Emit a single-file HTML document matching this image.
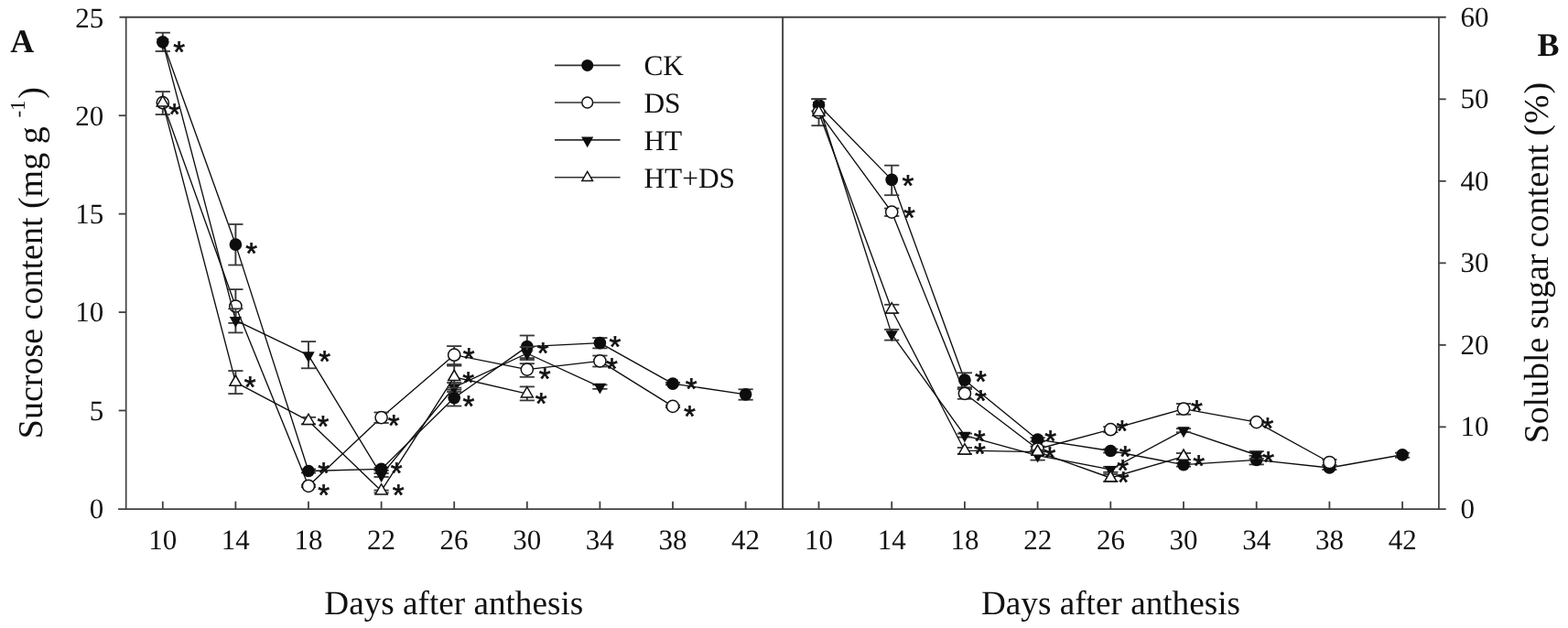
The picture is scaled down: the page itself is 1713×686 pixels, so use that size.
<!DOCTYPE html>
<html lang="en">
<head>
<meta charset="utf-8">
<title>Sucrose and soluble sugar content</title>
<style>
html,body{margin:0;padding:0;background:#fff;}
body{width:1713px;height:686px;overflow:hidden;}
svg{display:block;filter:blur(0.45px);}
svg text{text-rendering:geometricPrecision;}
</style>
</head>
<body>
<svg width="1713" height="686" viewBox="0 0 1713 686" role="img" aria-label="Sucrose content and soluble sugar content versus days after anthesis">
<rect width="1713" height="686" fill="#fff"/>
<g id="panelA">
<polyline points="177.80,45.80 257.40,267.10 337.00,514.50 416.60,512.40 496.20,434.60 575.80,378.60 655.40,374.60 735.00,419.10 814.60,430.80" fill="none" stroke="#0d0d0d" stroke-width="1.35" stroke-linejoin="round"/>
<line x1="177.80" y1="35.70" x2="177.80" y2="56.00" stroke="#383838" stroke-width="1.9" />
<line x1="169.70" y1="35.70" x2="185.90" y2="35.70" stroke="#383838" stroke-width="1.8" />
<line x1="169.70" y1="56.00" x2="185.90" y2="56.00" stroke="#383838" stroke-width="1.8" />
<line x1="257.40" y1="245.00" x2="257.40" y2="289.50" stroke="#383838" stroke-width="1.9" />
<line x1="249.30" y1="245.00" x2="265.50" y2="245.00" stroke="#383838" stroke-width="1.8" />
<line x1="249.30" y1="289.50" x2="265.50" y2="289.50" stroke="#383838" stroke-width="1.8" />
<line x1="337.00" y1="512.50" x2="337.00" y2="516.50" stroke="#383838" stroke-width="1.9" />
<line x1="328.90" y1="512.50" x2="345.10" y2="512.50" stroke="#383838" stroke-width="1.8" />
<line x1="328.90" y1="516.50" x2="345.10" y2="516.50" stroke="#383838" stroke-width="1.8" />
<line x1="416.60" y1="510.90" x2="416.60" y2="513.90" stroke="#383838" stroke-width="1.9" />
<line x1="408.50" y1="510.90" x2="424.70" y2="510.90" stroke="#383838" stroke-width="1.8" />
<line x1="408.50" y1="513.90" x2="424.70" y2="513.90" stroke="#383838" stroke-width="1.8" />
<line x1="496.20" y1="425.70" x2="496.20" y2="443.50" stroke="#383838" stroke-width="1.9" />
<line x1="488.10" y1="425.70" x2="504.30" y2="425.70" stroke="#383838" stroke-width="1.8" />
<line x1="488.10" y1="443.50" x2="504.30" y2="443.50" stroke="#383838" stroke-width="1.8" />
<line x1="575.80" y1="366.50" x2="575.80" y2="391.10" stroke="#383838" stroke-width="1.9" />
<line x1="567.70" y1="366.50" x2="583.90" y2="366.50" stroke="#383838" stroke-width="1.8" />
<line x1="567.70" y1="391.10" x2="583.90" y2="391.10" stroke="#383838" stroke-width="1.8" />
<line x1="655.40" y1="369.10" x2="655.40" y2="380.40" stroke="#383838" stroke-width="1.9" />
<line x1="647.30" y1="369.10" x2="663.50" y2="369.10" stroke="#383838" stroke-width="1.8" />
<line x1="647.30" y1="380.40" x2="663.50" y2="380.40" stroke="#383838" stroke-width="1.8" />
<line x1="735.00" y1="417.90" x2="735.00" y2="420.30" stroke="#383838" stroke-width="1.9" />
<line x1="726.90" y1="417.90" x2="743.10" y2="417.90" stroke="#383838" stroke-width="1.8" />
<line x1="726.90" y1="420.30" x2="743.10" y2="420.30" stroke="#383838" stroke-width="1.8" />
<line x1="814.60" y1="425.30" x2="814.60" y2="436.70" stroke="#383838" stroke-width="1.9" />
<line x1="806.50" y1="425.30" x2="822.70" y2="425.30" stroke="#383838" stroke-width="1.8" />
<line x1="806.50" y1="436.70" x2="822.70" y2="436.70" stroke="#383838" stroke-width="1.8" />
<circle cx="177.80" cy="45.80" r="6.85" fill="#0d0d0d"/>
<circle cx="257.40" cy="267.10" r="6.85" fill="#0d0d0d"/>
<circle cx="337.00" cy="514.50" r="6.85" fill="#0d0d0d"/>
<circle cx="416.60" cy="512.40" r="6.85" fill="#0d0d0d"/>
<circle cx="496.20" cy="434.60" r="6.85" fill="#0d0d0d"/>
<circle cx="575.80" cy="378.60" r="6.85" fill="#0d0d0d"/>
<circle cx="655.40" cy="374.60" r="6.85" fill="#0d0d0d"/>
<circle cx="735.00" cy="419.10" r="6.85" fill="#0d0d0d"/>
<circle cx="814.60" cy="430.80" r="6.85" fill="#0d0d0d"/>
<polyline points="177.80,112.20 257.40,334.50 337.00,530.80 416.60,456.10 496.20,387.70 575.80,403.60 655.40,394.40 735.00,443.90" fill="none" stroke="#0d0d0d" stroke-width="1.35" stroke-linejoin="round"/>
<line x1="177.80" y1="100.10" x2="177.80" y2="125.10" stroke="#383838" stroke-width="1.9" />
<line x1="169.70" y1="100.10" x2="185.90" y2="100.10" stroke="#383838" stroke-width="1.8" />
<line x1="169.70" y1="125.10" x2="185.90" y2="125.10" stroke="#383838" stroke-width="1.8" />
<line x1="257.40" y1="316.10" x2="257.40" y2="352.90" stroke="#383838" stroke-width="1.9" />
<line x1="249.30" y1="316.10" x2="265.50" y2="316.10" stroke="#383838" stroke-width="1.8" />
<line x1="249.30" y1="352.90" x2="265.50" y2="352.90" stroke="#383838" stroke-width="1.8" />
<line x1="337.00" y1="529.60" x2="337.00" y2="532.00" stroke="#383838" stroke-width="1.9" />
<line x1="328.90" y1="529.60" x2="345.10" y2="529.60" stroke="#383838" stroke-width="1.8" />
<line x1="328.90" y1="532.00" x2="345.10" y2="532.00" stroke="#383838" stroke-width="1.8" />
<line x1="416.60" y1="450.50" x2="416.60" y2="462.00" stroke="#383838" stroke-width="1.9" />
<line x1="408.50" y1="450.50" x2="424.70" y2="450.50" stroke="#383838" stroke-width="1.8" />
<line x1="408.50" y1="462.00" x2="424.70" y2="462.00" stroke="#383838" stroke-width="1.8" />
<line x1="496.20" y1="378.10" x2="496.20" y2="398.10" stroke="#383838" stroke-width="1.9" />
<line x1="488.10" y1="378.10" x2="504.30" y2="378.10" stroke="#383838" stroke-width="1.8" />
<line x1="488.10" y1="398.10" x2="504.30" y2="398.10" stroke="#383838" stroke-width="1.8" />
<line x1="575.80" y1="397.20" x2="575.80" y2="411.80" stroke="#383838" stroke-width="1.9" />
<line x1="567.70" y1="397.20" x2="583.90" y2="397.20" stroke="#383838" stroke-width="1.8" />
<line x1="567.70" y1="411.80" x2="583.90" y2="411.80" stroke="#383838" stroke-width="1.8" />
<line x1="655.40" y1="388.50" x2="655.40" y2="400.50" stroke="#383838" stroke-width="1.9" />
<line x1="647.30" y1="388.50" x2="663.50" y2="388.50" stroke="#383838" stroke-width="1.8" />
<line x1="647.30" y1="400.50" x2="663.50" y2="400.50" stroke="#383838" stroke-width="1.8" />
<line x1="735.00" y1="442.70" x2="735.00" y2="445.10" stroke="#383838" stroke-width="1.9" />
<line x1="726.90" y1="442.70" x2="743.10" y2="442.70" stroke="#383838" stroke-width="1.8" />
<line x1="726.90" y1="445.10" x2="743.10" y2="445.10" stroke="#383838" stroke-width="1.8" />
<circle cx="177.80" cy="112.20" r="6.6" fill="#fff" stroke="#111" stroke-width="1.5"/>
<circle cx="257.40" cy="334.50" r="6.6" fill="#fff" stroke="#111" stroke-width="1.5"/>
<circle cx="337.00" cy="530.80" r="6.6" fill="#fff" stroke="#111" stroke-width="1.5"/>
<circle cx="416.60" cy="456.10" r="6.6" fill="#fff" stroke="#111" stroke-width="1.5"/>
<circle cx="496.20" cy="387.70" r="6.6" fill="#fff" stroke="#111" stroke-width="1.5"/>
<circle cx="575.80" cy="403.60" r="6.6" fill="#fff" stroke="#111" stroke-width="1.5"/>
<circle cx="655.40" cy="394.40" r="6.6" fill="#fff" stroke="#111" stroke-width="1.5"/>
<circle cx="735.00" cy="443.90" r="6.6" fill="#fff" stroke="#111" stroke-width="1.5"/>
<polyline points="177.80,45.80 257.40,349.90 337.00,388.20 416.60,519.00 496.20,423.00 575.80,386.00 655.40,422.60" fill="none" stroke="#0d0d0d" stroke-width="1.35" stroke-linejoin="round"/>
<line x1="257.40" y1="337.30" x2="257.40" y2="363.40" stroke="#383838" stroke-width="1.9" />
<line x1="249.30" y1="337.30" x2="265.50" y2="337.30" stroke="#383838" stroke-width="1.8" />
<line x1="249.30" y1="363.40" x2="265.50" y2="363.40" stroke="#383838" stroke-width="1.8" />
<line x1="337.00" y1="373.10" x2="337.00" y2="402.30" stroke="#383838" stroke-width="1.9" />
<line x1="328.90" y1="373.10" x2="345.10" y2="373.10" stroke="#383838" stroke-width="1.8" />
<line x1="328.90" y1="402.30" x2="345.10" y2="402.30" stroke="#383838" stroke-width="1.8" />
<line x1="416.60" y1="517.00" x2="416.60" y2="521.00" stroke="#383838" stroke-width="1.9" />
<line x1="408.50" y1="517.00" x2="424.70" y2="517.00" stroke="#383838" stroke-width="1.8" />
<line x1="408.50" y1="521.00" x2="424.70" y2="521.00" stroke="#383838" stroke-width="1.8" />
<line x1="496.20" y1="418.00" x2="496.20" y2="428.00" stroke="#383838" stroke-width="1.9" />
<line x1="488.10" y1="418.00" x2="504.30" y2="418.00" stroke="#383838" stroke-width="1.8" />
<line x1="488.10" y1="428.00" x2="504.30" y2="428.00" stroke="#383838" stroke-width="1.8" />
<line x1="575.80" y1="379.00" x2="575.80" y2="393.00" stroke="#383838" stroke-width="1.9" />
<line x1="567.70" y1="379.00" x2="583.90" y2="379.00" stroke="#383838" stroke-width="1.8" />
<line x1="567.70" y1="393.00" x2="583.90" y2="393.00" stroke="#383838" stroke-width="1.8" />
<line x1="655.40" y1="420.40" x2="655.40" y2="424.80" stroke="#383838" stroke-width="1.9" />
<line x1="647.30" y1="420.40" x2="663.50" y2="420.40" stroke="#383838" stroke-width="1.8" />
<line x1="647.30" y1="424.80" x2="663.50" y2="424.80" stroke="#383838" stroke-width="1.8" />
<polygon points="171.10,41.93 184.50,41.93 177.80,53.73" fill="#0d0d0d"/>
<polygon points="250.70,346.03 264.10,346.03 257.40,357.83" fill="#0d0d0d"/>
<polygon points="330.30,384.33 343.70,384.33 337.00,396.13" fill="#0d0d0d"/>
<polygon points="409.90,515.13 423.30,515.13 416.60,526.93" fill="#0d0d0d"/>
<polygon points="489.50,419.13 502.90,419.13 496.20,430.93" fill="#0d0d0d"/>
<polygon points="569.10,382.13 582.50,382.13 575.80,393.93" fill="#0d0d0d"/>
<polygon points="648.70,418.73 662.10,418.73 655.40,430.53" fill="#0d0d0d"/>
<polyline points="177.80,112.20 257.40,417.60 337.00,459.70 416.60,536.20 496.20,411.80 575.80,430.20" fill="none" stroke="#0d0d0d" stroke-width="1.35" stroke-linejoin="round"/>
<line x1="257.40" y1="405.10" x2="257.40" y2="430.10" stroke="#383838" stroke-width="1.9" />
<line x1="249.30" y1="405.10" x2="265.50" y2="405.10" stroke="#383838" stroke-width="1.8" />
<line x1="249.30" y1="430.10" x2="265.50" y2="430.10" stroke="#383838" stroke-width="1.8" />
<line x1="337.00" y1="455.80" x2="337.00" y2="463.30" stroke="#383838" stroke-width="1.9" />
<line x1="328.90" y1="455.80" x2="345.10" y2="455.80" stroke="#383838" stroke-width="1.8" />
<line x1="328.90" y1="463.30" x2="345.10" y2="463.30" stroke="#383838" stroke-width="1.8" />
<line x1="416.60" y1="535.60" x2="416.60" y2="538.40" stroke="#383838" stroke-width="1.9" />
<line x1="408.50" y1="535.60" x2="424.70" y2="535.60" stroke="#383838" stroke-width="1.8" />
<line x1="408.50" y1="538.40" x2="424.70" y2="538.40" stroke="#383838" stroke-width="1.8" />
<line x1="496.20" y1="399.60" x2="496.20" y2="423.60" stroke="#383838" stroke-width="1.9" />
<line x1="488.10" y1="399.60" x2="504.30" y2="399.60" stroke="#383838" stroke-width="1.8" />
<line x1="488.10" y1="423.60" x2="504.30" y2="423.60" stroke="#383838" stroke-width="1.8" />
<line x1="575.80" y1="422.40" x2="575.80" y2="437.40" stroke="#383838" stroke-width="1.9" />
<line x1="567.70" y1="422.40" x2="583.90" y2="422.40" stroke="#383838" stroke-width="1.8" />
<line x1="567.70" y1="437.40" x2="583.90" y2="437.40" stroke="#383838" stroke-width="1.8" />
<polygon points="171.30,115.97 184.30,115.97 177.80,104.67" fill="#fff" stroke="#111" stroke-width="1.5" stroke-linejoin="miter"/>
<polygon points="250.90,421.37 263.90,421.37 257.40,410.07" fill="#fff" stroke="#111" stroke-width="1.5" stroke-linejoin="miter"/>
<polygon points="330.50,463.47 343.50,463.47 337.00,452.17" fill="#fff" stroke="#111" stroke-width="1.5" stroke-linejoin="miter"/>
<polygon points="410.10,539.97 423.10,539.97 416.60,528.67" fill="#fff" stroke="#111" stroke-width="1.5" stroke-linejoin="miter"/>
<polygon points="489.70,415.57 502.70,415.57 496.20,404.27" fill="#fff" stroke="#111" stroke-width="1.5" stroke-linejoin="miter"/>
<polygon points="569.30,433.97 582.30,433.97 575.80,422.67" fill="#fff" stroke="#111" stroke-width="1.5" stroke-linejoin="miter"/>
<text x="189.33" y="67.96" font-family='"Liberation Sans", Arial, sans-serif' font-size="33" font-weight="normal" text-anchor="start" fill="#111" stroke="#111" stroke-width="0.6">*</text>
<text x="184.23" y="135.76" font-family='"Liberation Sans", Arial, sans-serif' font-size="33" font-weight="normal" text-anchor="start" fill="#111" stroke="#111" stroke-width="0.6">*</text>
<text x="268.23" y="288.06" font-family='"Liberation Sans", Arial, sans-serif' font-size="33" font-weight="normal" text-anchor="start" fill="#111" stroke="#111" stroke-width="0.6">*</text>
<text x="266.63" y="434.16" font-family='"Liberation Sans", Arial, sans-serif' font-size="33" font-weight="normal" text-anchor="start" fill="#111" stroke="#111" stroke-width="0.6">*</text>
<text x="348.23" y="405.66" font-family='"Liberation Sans", Arial, sans-serif' font-size="33" font-weight="normal" text-anchor="start" fill="#111" stroke="#111" stroke-width="0.6">*</text>
<text x="346.53" y="476.66" font-family='"Liberation Sans", Arial, sans-serif' font-size="33" font-weight="normal" text-anchor="start" fill="#111" stroke="#111" stroke-width="0.6">*</text>
<text x="347.23" y="527.66" font-family='"Liberation Sans", Arial, sans-serif' font-size="33" font-weight="normal" text-anchor="start" fill="#111" stroke="#111" stroke-width="0.6">*</text>
<text x="347.23" y="552.46" font-family='"Liberation Sans", Arial, sans-serif' font-size="33" font-weight="normal" text-anchor="start" fill="#111" stroke="#111" stroke-width="0.6">*</text>
<text x="426.73" y="528.36" font-family='"Liberation Sans", Arial, sans-serif' font-size="33" font-weight="normal" text-anchor="start" fill="#111" stroke="#111" stroke-width="0.6">*</text>
<text x="428.63" y="551.56" font-family='"Liberation Sans", Arial, sans-serif' font-size="33" font-weight="normal" text-anchor="start" fill="#111" stroke="#111" stroke-width="0.6">*</text>
<text x="423.73" y="475.66" font-family='"Liberation Sans", Arial, sans-serif' font-size="33" font-weight="normal" text-anchor="start" fill="#111" stroke="#111" stroke-width="0.6">*</text>
<text x="505.73" y="403.16" font-family='"Liberation Sans", Arial, sans-serif' font-size="33" font-weight="normal" text-anchor="start" fill="#111" stroke="#111" stroke-width="0.6">*</text>
<text x="505.23" y="429.46" font-family='"Liberation Sans", Arial, sans-serif' font-size="33" font-weight="normal" text-anchor="start" fill="#111" stroke="#111" stroke-width="0.6">*</text>
<text x="505.43" y="454.76" font-family='"Liberation Sans", Arial, sans-serif' font-size="33" font-weight="normal" text-anchor="start" fill="#111" stroke="#111" stroke-width="0.6">*</text>
<text x="586.73" y="397.16" font-family='"Liberation Sans", Arial, sans-serif' font-size="33" font-weight="normal" text-anchor="start" fill="#111" stroke="#111" stroke-width="0.6">*</text>
<text x="588.73" y="424.56" font-family='"Liberation Sans", Arial, sans-serif' font-size="33" font-weight="normal" text-anchor="start" fill="#111" stroke="#111" stroke-width="0.6">*</text>
<text x="584.73" y="451.96" font-family='"Liberation Sans", Arial, sans-serif' font-size="33" font-weight="normal" text-anchor="start" fill="#111" stroke="#111" stroke-width="0.6">*</text>
<text x="665.43" y="389.86" font-family='"Liberation Sans", Arial, sans-serif' font-size="33" font-weight="normal" text-anchor="start" fill="#111" stroke="#111" stroke-width="0.6">*</text>
<text x="661.93" y="414.16" font-family='"Liberation Sans", Arial, sans-serif' font-size="33" font-weight="normal" text-anchor="start" fill="#111" stroke="#111" stroke-width="0.6">*</text>
<text x="748.73" y="436.46" font-family='"Liberation Sans", Arial, sans-serif' font-size="33" font-weight="normal" text-anchor="start" fill="#111" stroke="#111" stroke-width="0.6">*</text>
<text x="747.03" y="465.96" font-family='"Liberation Sans", Arial, sans-serif' font-size="33" font-weight="normal" text-anchor="start" fill="#111" stroke="#111" stroke-width="0.6">*</text>
</g>
<g id="panelB">
<polyline points="894.50,114.80 974.20,196.40 1053.90,415.20 1133.60,480.20 1213.30,492.50 1293.00,507.60 1372.70,502.40 1452.40,511.00 1532.10,496.80" fill="none" stroke="#0d0d0d" stroke-width="1.35" stroke-linejoin="round"/>
<line x1="894.50" y1="108.20" x2="894.50" y2="121.40" stroke="#383838" stroke-width="1.9" />
<line x1="886.40" y1="108.20" x2="902.60" y2="108.20" stroke="#383838" stroke-width="1.8" />
<line x1="886.40" y1="121.40" x2="902.60" y2="121.40" stroke="#383838" stroke-width="1.8" />
<line x1="974.20" y1="180.70" x2="974.20" y2="213.20" stroke="#383838" stroke-width="1.9" />
<line x1="966.10" y1="180.70" x2="982.30" y2="180.70" stroke="#383838" stroke-width="1.8" />
<line x1="966.10" y1="213.20" x2="982.30" y2="213.20" stroke="#383838" stroke-width="1.8" />
<line x1="1053.90" y1="407.30" x2="1053.90" y2="423.20" stroke="#383838" stroke-width="1.9" />
<line x1="1045.80" y1="407.30" x2="1062.00" y2="407.30" stroke="#383838" stroke-width="1.8" />
<line x1="1045.80" y1="423.20" x2="1062.00" y2="423.20" stroke="#383838" stroke-width="1.8" />
<line x1="1133.60" y1="478.20" x2="1133.60" y2="482.20" stroke="#383838" stroke-width="1.9" />
<line x1="1125.50" y1="478.20" x2="1141.70" y2="478.20" stroke="#383838" stroke-width="1.8" />
<line x1="1125.50" y1="482.20" x2="1141.70" y2="482.20" stroke="#383838" stroke-width="1.8" />
<line x1="1213.30" y1="490.50" x2="1213.30" y2="494.50" stroke="#383838" stroke-width="1.9" />
<line x1="1205.20" y1="490.50" x2="1221.40" y2="490.50" stroke="#383838" stroke-width="1.8" />
<line x1="1205.20" y1="494.50" x2="1221.40" y2="494.50" stroke="#383838" stroke-width="1.8" />
<line x1="1293.00" y1="505.60" x2="1293.00" y2="509.60" stroke="#383838" stroke-width="1.9" />
<line x1="1284.90" y1="505.60" x2="1301.10" y2="505.60" stroke="#383838" stroke-width="1.8" />
<line x1="1284.90" y1="509.60" x2="1301.10" y2="509.60" stroke="#383838" stroke-width="1.8" />
<line x1="1372.70" y1="497.80" x2="1372.70" y2="507.40" stroke="#383838" stroke-width="1.9" />
<line x1="1364.60" y1="497.80" x2="1380.80" y2="497.80" stroke="#383838" stroke-width="1.8" />
<line x1="1364.60" y1="507.40" x2="1380.80" y2="507.40" stroke="#383838" stroke-width="1.8" />
<line x1="1452.40" y1="509.00" x2="1452.40" y2="513.00" stroke="#383838" stroke-width="1.9" />
<line x1="1444.30" y1="509.00" x2="1460.50" y2="509.00" stroke="#383838" stroke-width="1.8" />
<line x1="1444.30" y1="513.00" x2="1460.50" y2="513.00" stroke="#383838" stroke-width="1.8" />
<line x1="1532.10" y1="494.60" x2="1532.10" y2="499.80" stroke="#383838" stroke-width="1.9" />
<line x1="1524.00" y1="494.60" x2="1540.20" y2="494.60" stroke="#383838" stroke-width="1.8" />
<line x1="1524.00" y1="499.80" x2="1540.20" y2="499.80" stroke="#383838" stroke-width="1.8" />
<circle cx="894.50" cy="114.80" r="6.85" fill="#0d0d0d"/>
<circle cx="974.20" cy="196.40" r="6.85" fill="#0d0d0d"/>
<circle cx="1053.90" cy="415.20" r="6.85" fill="#0d0d0d"/>
<circle cx="1133.60" cy="480.20" r="6.85" fill="#0d0d0d"/>
<circle cx="1213.30" cy="492.50" r="6.85" fill="#0d0d0d"/>
<circle cx="1293.00" cy="507.60" r="6.85" fill="#0d0d0d"/>
<circle cx="1372.70" cy="502.40" r="6.85" fill="#0d0d0d"/>
<circle cx="1452.40" cy="511.00" r="6.85" fill="#0d0d0d"/>
<circle cx="1532.10" cy="496.80" r="6.85" fill="#0d0d0d"/>
<polyline points="894.50,122.70 974.20,231.60 1053.90,429.80 1133.60,490.50 1213.30,469.20 1293.00,446.60 1372.70,461.10 1452.40,505.00" fill="none" stroke="#0d0d0d" stroke-width="1.35" stroke-linejoin="round"/>
<line x1="894.50" y1="108.20" x2="894.50" y2="137.20" stroke="#383838" stroke-width="1.9" />
<line x1="886.40" y1="108.20" x2="902.60" y2="108.20" stroke="#383838" stroke-width="1.8" />
<line x1="886.40" y1="137.20" x2="902.60" y2="137.20" stroke="#383838" stroke-width="1.8" />
<line x1="974.20" y1="227.60" x2="974.20" y2="236.00" stroke="#383838" stroke-width="1.9" />
<line x1="966.10" y1="227.60" x2="982.30" y2="227.60" stroke="#383838" stroke-width="1.8" />
<line x1="966.10" y1="236.00" x2="982.30" y2="236.00" stroke="#383838" stroke-width="1.8" />
<line x1="1053.90" y1="425.00" x2="1053.90" y2="435.80" stroke="#383838" stroke-width="1.9" />
<line x1="1045.80" y1="425.00" x2="1062.00" y2="425.00" stroke="#383838" stroke-width="1.8" />
<line x1="1045.80" y1="435.80" x2="1062.00" y2="435.80" stroke="#383838" stroke-width="1.8" />
<line x1="1133.60" y1="487.50" x2="1133.60" y2="493.50" stroke="#383838" stroke-width="1.9" />
<line x1="1125.50" y1="487.50" x2="1141.70" y2="487.50" stroke="#383838" stroke-width="1.8" />
<line x1="1125.50" y1="493.50" x2="1141.70" y2="493.50" stroke="#383838" stroke-width="1.8" />
<line x1="1213.30" y1="466.20" x2="1213.30" y2="472.20" stroke="#383838" stroke-width="1.9" />
<line x1="1205.20" y1="466.20" x2="1221.40" y2="466.20" stroke="#383838" stroke-width="1.8" />
<line x1="1205.20" y1="472.20" x2="1221.40" y2="472.20" stroke="#383838" stroke-width="1.8" />
<line x1="1293.00" y1="441.00" x2="1293.00" y2="452.70" stroke="#383838" stroke-width="1.9" />
<line x1="1284.90" y1="441.00" x2="1301.10" y2="441.00" stroke="#383838" stroke-width="1.8" />
<line x1="1284.90" y1="452.70" x2="1301.10" y2="452.70" stroke="#383838" stroke-width="1.8" />
<line x1="1372.70" y1="459.10" x2="1372.70" y2="463.10" stroke="#383838" stroke-width="1.9" />
<line x1="1364.60" y1="459.10" x2="1380.80" y2="459.10" stroke="#383838" stroke-width="1.8" />
<line x1="1364.60" y1="463.10" x2="1380.80" y2="463.10" stroke="#383838" stroke-width="1.8" />
<line x1="1452.40" y1="502.00" x2="1452.40" y2="508.00" stroke="#383838" stroke-width="1.9" />
<line x1="1444.30" y1="502.00" x2="1460.50" y2="502.00" stroke="#383838" stroke-width="1.8" />
<line x1="1444.30" y1="508.00" x2="1460.50" y2="508.00" stroke="#383838" stroke-width="1.8" />
<circle cx="894.50" cy="122.70" r="6.6" fill="#fff" stroke="#111" stroke-width="1.5"/>
<circle cx="974.20" cy="231.60" r="6.6" fill="#fff" stroke="#111" stroke-width="1.5"/>
<circle cx="1053.90" cy="429.80" r="6.6" fill="#fff" stroke="#111" stroke-width="1.5"/>
<circle cx="1133.60" cy="490.50" r="6.6" fill="#fff" stroke="#111" stroke-width="1.5"/>
<circle cx="1213.30" cy="469.20" r="6.6" fill="#fff" stroke="#111" stroke-width="1.5"/>
<circle cx="1293.00" cy="446.60" r="6.6" fill="#fff" stroke="#111" stroke-width="1.5"/>
<circle cx="1372.70" cy="461.10" r="6.6" fill="#fff" stroke="#111" stroke-width="1.5"/>
<circle cx="1452.40" cy="505.00" r="6.6" fill="#fff" stroke="#111" stroke-width="1.5"/>
<polyline points="894.50,114.80 974.20,365.10 1053.90,475.60 1133.60,497.60 1213.30,512.80 1293.00,470.20 1372.70,497.00" fill="none" stroke="#0d0d0d" stroke-width="1.35" stroke-linejoin="round"/>
<line x1="974.20" y1="359.90" x2="974.20" y2="371.60" stroke="#383838" stroke-width="1.9" />
<line x1="966.10" y1="359.90" x2="982.30" y2="359.90" stroke="#383838" stroke-width="1.8" />
<line x1="966.10" y1="371.60" x2="982.30" y2="371.60" stroke="#383838" stroke-width="1.8" />
<line x1="1053.90" y1="473.60" x2="1053.90" y2="477.60" stroke="#383838" stroke-width="1.9" />
<line x1="1045.80" y1="473.60" x2="1062.00" y2="473.60" stroke="#383838" stroke-width="1.8" />
<line x1="1045.80" y1="477.60" x2="1062.00" y2="477.60" stroke="#383838" stroke-width="1.8" />
<line x1="1133.60" y1="492.60" x2="1133.60" y2="502.60" stroke="#383838" stroke-width="1.9" />
<line x1="1125.50" y1="492.60" x2="1141.70" y2="492.60" stroke="#383838" stroke-width="1.8" />
<line x1="1125.50" y1="502.60" x2="1141.70" y2="502.60" stroke="#383838" stroke-width="1.8" />
<line x1="1213.30" y1="509.80" x2="1213.30" y2="515.80" stroke="#383838" stroke-width="1.9" />
<line x1="1205.20" y1="509.80" x2="1221.40" y2="509.80" stroke="#383838" stroke-width="1.8" />
<line x1="1205.20" y1="515.80" x2="1221.40" y2="515.80" stroke="#383838" stroke-width="1.8" />
<line x1="1293.00" y1="468.20" x2="1293.00" y2="472.20" stroke="#383838" stroke-width="1.9" />
<line x1="1284.90" y1="468.20" x2="1301.10" y2="468.20" stroke="#383838" stroke-width="1.8" />
<line x1="1284.90" y1="472.20" x2="1301.10" y2="472.20" stroke="#383838" stroke-width="1.8" />
<line x1="1372.70" y1="493.00" x2="1372.70" y2="501.00" stroke="#383838" stroke-width="1.9" />
<line x1="1364.60" y1="493.00" x2="1380.80" y2="493.00" stroke="#383838" stroke-width="1.8" />
<line x1="1364.60" y1="501.00" x2="1380.80" y2="501.00" stroke="#383838" stroke-width="1.8" />
<polygon points="887.80,110.93 901.20,110.93 894.50,122.73" fill="#0d0d0d"/>
<polygon points="967.50,361.23 980.90,361.23 974.20,373.03" fill="#0d0d0d"/>
<polygon points="1047.20,471.73 1060.60,471.73 1053.90,483.53" fill="#0d0d0d"/>
<polygon points="1126.90,493.73 1140.30,493.73 1133.60,505.53" fill="#0d0d0d"/>
<polygon points="1206.60,508.93 1220.00,508.93 1213.30,520.73" fill="#0d0d0d"/>
<polygon points="1286.30,466.33 1299.70,466.33 1293.00,478.13" fill="#0d0d0d"/>
<polygon points="1366.00,493.13 1379.40,493.13 1372.70,504.93" fill="#0d0d0d"/>
<polyline points="894.50,122.70 974.20,338.20 1053.90,492.20 1133.60,493.60 1213.30,522.00 1293.00,498.60" fill="none" stroke="#0d0d0d" stroke-width="1.35" stroke-linejoin="round"/>
<line x1="974.20" y1="332.80" x2="974.20" y2="341.80" stroke="#383838" stroke-width="1.9" />
<line x1="966.10" y1="332.80" x2="982.30" y2="332.80" stroke="#383838" stroke-width="1.8" />
<line x1="966.10" y1="341.80" x2="982.30" y2="341.80" stroke="#383838" stroke-width="1.8" />
<line x1="1053.90" y1="489.00" x2="1053.90" y2="496.00" stroke="#383838" stroke-width="1.9" />
<line x1="1045.80" y1="489.00" x2="1062.00" y2="489.00" stroke="#383838" stroke-width="1.8" />
<line x1="1045.80" y1="496.00" x2="1062.00" y2="496.00" stroke="#383838" stroke-width="1.8" />
<line x1="1133.60" y1="491.60" x2="1133.60" y2="495.60" stroke="#383838" stroke-width="1.9" />
<line x1="1125.50" y1="491.60" x2="1141.70" y2="491.60" stroke="#383838" stroke-width="1.8" />
<line x1="1125.50" y1="495.60" x2="1141.70" y2="495.60" stroke="#383838" stroke-width="1.8" />
<line x1="1213.30" y1="518.00" x2="1213.30" y2="526.00" stroke="#383838" stroke-width="1.9" />
<line x1="1205.20" y1="518.00" x2="1221.40" y2="518.00" stroke="#383838" stroke-width="1.8" />
<line x1="1205.20" y1="526.00" x2="1221.40" y2="526.00" stroke="#383838" stroke-width="1.8" />
<line x1="1293.00" y1="495.00" x2="1293.00" y2="502.20" stroke="#383838" stroke-width="1.9" />
<line x1="1284.90" y1="495.00" x2="1301.10" y2="495.00" stroke="#383838" stroke-width="1.8" />
<line x1="1284.90" y1="502.20" x2="1301.10" y2="502.20" stroke="#383838" stroke-width="1.8" />
<polygon points="888.00,126.47 901.00,126.47 894.50,115.17" fill="#fff" stroke="#111" stroke-width="1.5" stroke-linejoin="miter"/>
<polygon points="967.70,341.97 980.70,341.97 974.20,330.67" fill="#fff" stroke="#111" stroke-width="1.5" stroke-linejoin="miter"/>
<polygon points="1047.40,495.97 1060.40,495.97 1053.90,484.67" fill="#fff" stroke="#111" stroke-width="1.5" stroke-linejoin="miter"/>
<polygon points="1127.10,497.37 1140.10,497.37 1133.60,486.07" fill="#fff" stroke="#111" stroke-width="1.5" stroke-linejoin="miter"/>
<polygon points="1206.80,525.77 1219.80,525.77 1213.30,514.47" fill="#fff" stroke="#111" stroke-width="1.5" stroke-linejoin="miter"/>
<polygon points="1286.50,502.37 1299.50,502.37 1293.00,491.07" fill="#fff" stroke="#111" stroke-width="1.5" stroke-linejoin="miter"/>
<text x="985.43" y="213.56" font-family='"Liberation Sans", Arial, sans-serif' font-size="33" font-weight="normal" text-anchor="start" fill="#111" stroke="#111" stroke-width="0.6">*</text>
<text x="987.03" y="249.16" font-family='"Liberation Sans", Arial, sans-serif' font-size="33" font-weight="normal" text-anchor="start" fill="#111" stroke="#111" stroke-width="0.6">*</text>
<text x="1065.03" y="428.46" font-family='"Liberation Sans", Arial, sans-serif' font-size="33" font-weight="normal" text-anchor="start" fill="#111" stroke="#111" stroke-width="0.6">*</text>
<text x="1065.03" y="448.76" font-family='"Liberation Sans", Arial, sans-serif' font-size="33" font-weight="normal" text-anchor="start" fill="#111" stroke="#111" stroke-width="0.6">*</text>
<text x="1063.73" y="492.86" font-family='"Liberation Sans", Arial, sans-serif' font-size="33" font-weight="normal" text-anchor="start" fill="#111" stroke="#111" stroke-width="0.6">*</text>
<text x="1064.03" y="507.36" font-family='"Liberation Sans", Arial, sans-serif' font-size="33" font-weight="normal" text-anchor="start" fill="#111" stroke="#111" stroke-width="0.6">*</text>
<text x="1141.33" y="493.26" font-family='"Liberation Sans", Arial, sans-serif' font-size="33" font-weight="normal" text-anchor="start" fill="#111" stroke="#111" stroke-width="0.6">*</text>
<text x="1140.53" y="510.86" font-family='"Liberation Sans", Arial, sans-serif' font-size="33" font-weight="normal" text-anchor="start" fill="#111" stroke="#111" stroke-width="0.6">*</text>
<text x="1219.43" y="481.96" font-family='"Liberation Sans", Arial, sans-serif' font-size="33" font-weight="normal" text-anchor="start" fill="#111" stroke="#111" stroke-width="0.6">*</text>
<text x="1222.73" y="509.96" font-family='"Liberation Sans", Arial, sans-serif' font-size="33" font-weight="normal" text-anchor="start" fill="#111" stroke="#111" stroke-width="0.6">*</text>
<text x="1220.13" y="524.96" font-family='"Liberation Sans", Arial, sans-serif' font-size="33" font-weight="normal" text-anchor="start" fill="#111" stroke="#111" stroke-width="0.6">*</text>
<text x="1220.73" y="538.16" font-family='"Liberation Sans", Arial, sans-serif' font-size="33" font-weight="normal" text-anchor="start" fill="#111" stroke="#111" stroke-width="0.6">*</text>
<text x="1303.23" y="519.86" font-family='"Liberation Sans", Arial, sans-serif' font-size="33" font-weight="normal" text-anchor="start" fill="#111" stroke="#111" stroke-width="0.6">*</text>
<text x="1301.03" y="459.76" font-family='"Liberation Sans", Arial, sans-serif' font-size="33" font-weight="normal" text-anchor="start" fill="#111" stroke="#111" stroke-width="0.6">*</text>
<text x="1378.43" y="479.46" font-family='"Liberation Sans", Arial, sans-serif' font-size="33" font-weight="normal" text-anchor="start" fill="#111" stroke="#111" stroke-width="0.6">*</text>
<text x="1379.13" y="516.36" font-family='"Liberation Sans", Arial, sans-serif' font-size="33" font-weight="normal" text-anchor="start" fill="#111" stroke="#111" stroke-width="0.6">*</text>
</g>
<g id="axes">
<line x1="130.50" y1="18.80" x2="1579.70" y2="18.80" stroke="#404040" stroke-width="1.9" />
<line x1="129.10" y1="556.10" x2="1579.70" y2="556.10" stroke="#404040" stroke-width="1.9" />
<line x1="137.70" y1="18.80" x2="137.70" y2="555.90" stroke="#404040" stroke-width="1.7" />
<line x1="855.10" y1="18.80" x2="855.10" y2="555.90" stroke="#404040" stroke-width="1.9" />
<line x1="1571.90" y1="18.80" x2="1571.90" y2="555.90" stroke="#404040" stroke-width="1.7" />
<line x1="129.70" y1="448.48" x2="137.70" y2="448.48" stroke="#404040" stroke-width="1.8" />
<line x1="129.70" y1="341.06" x2="137.70" y2="341.06" stroke="#404040" stroke-width="1.8" />
<line x1="129.70" y1="233.64" x2="137.70" y2="233.64" stroke="#404040" stroke-width="1.8" />
<line x1="129.70" y1="126.22" x2="137.70" y2="126.22" stroke="#404040" stroke-width="1.8" />
<line x1="1571.90" y1="466.38" x2="1579.70" y2="466.38" stroke="#404040" stroke-width="1.8" />
<line x1="1571.90" y1="376.87" x2="1579.70" y2="376.87" stroke="#404040" stroke-width="1.8" />
<line x1="1571.90" y1="287.35" x2="1579.70" y2="287.35" stroke="#404040" stroke-width="1.8" />
<line x1="1571.90" y1="197.83" x2="1579.70" y2="197.83" stroke="#404040" stroke-width="1.8" />
<line x1="1571.90" y1="108.32" x2="1579.70" y2="108.32" stroke="#404040" stroke-width="1.8" />
<line x1="177.80" y1="555.90" x2="177.80" y2="547.70" stroke="#404040" stroke-width="1.8" />
<line x1="894.50" y1="555.90" x2="894.50" y2="547.70" stroke="#404040" stroke-width="1.8" />
<line x1="257.40" y1="555.90" x2="257.40" y2="547.70" stroke="#404040" stroke-width="1.8" />
<line x1="974.20" y1="555.90" x2="974.20" y2="547.70" stroke="#404040" stroke-width="1.8" />
<line x1="337.00" y1="555.90" x2="337.00" y2="547.70" stroke="#404040" stroke-width="1.8" />
<line x1="1053.90" y1="555.90" x2="1053.90" y2="547.70" stroke="#404040" stroke-width="1.8" />
<line x1="416.60" y1="555.90" x2="416.60" y2="547.70" stroke="#404040" stroke-width="1.8" />
<line x1="1133.60" y1="555.90" x2="1133.60" y2="547.70" stroke="#404040" stroke-width="1.8" />
<line x1="496.20" y1="555.90" x2="496.20" y2="547.70" stroke="#404040" stroke-width="1.8" />
<line x1="1213.30" y1="555.90" x2="1213.30" y2="547.70" stroke="#404040" stroke-width="1.8" />
<line x1="575.80" y1="555.90" x2="575.80" y2="547.70" stroke="#404040" stroke-width="1.8" />
<line x1="1293.00" y1="555.90" x2="1293.00" y2="547.70" stroke="#404040" stroke-width="1.8" />
<line x1="655.40" y1="555.90" x2="655.40" y2="547.70" stroke="#404040" stroke-width="1.8" />
<line x1="1372.70" y1="555.90" x2="1372.70" y2="547.70" stroke="#404040" stroke-width="1.8" />
<line x1="735.00" y1="555.90" x2="735.00" y2="547.70" stroke="#404040" stroke-width="1.8" />
<line x1="1452.40" y1="555.90" x2="1452.40" y2="547.70" stroke="#404040" stroke-width="1.8" />
<line x1="814.60" y1="555.90" x2="814.60" y2="547.70" stroke="#404040" stroke-width="1.8" />
<line x1="1532.10" y1="555.90" x2="1532.10" y2="547.70" stroke="#404040" stroke-width="1.8" />
</g>
<g id="ticklabels">
<text x="113.30" y="565.70" font-family='"Liberation Serif", "Times New Roman", serif' font-size="31" font-weight="normal" text-anchor="end" fill="#111" >0</text>
<text x="113.30" y="458.50" font-family='"Liberation Serif", "Times New Roman", serif' font-size="31" font-weight="normal" text-anchor="end" fill="#111" >5</text>
<text x="113.30" y="351.31" font-family='"Liberation Serif", "Times New Roman", serif' font-size="31" font-weight="normal" text-anchor="end" fill="#111" >10</text>
<text x="113.30" y="244.11" font-family='"Liberation Serif", "Times New Roman", serif' font-size="31" font-weight="normal" text-anchor="end" fill="#111" >15</text>
<text x="113.30" y="136.92" font-family='"Liberation Serif", "Times New Roman", serif' font-size="31" font-weight="normal" text-anchor="end" fill="#111" >20</text>
<text x="113.30" y="29.72" font-family='"Liberation Serif", "Times New Roman", serif' font-size="31" font-weight="normal" text-anchor="end" fill="#111" >25</text>
<text x="1595.60" y="565.70" font-family='"Liberation Serif", "Times New Roman", serif' font-size="31" font-weight="normal" text-anchor="start" fill="#111" >0</text>
<text x="1595.60" y="476.18" font-family='"Liberation Serif", "Times New Roman", serif' font-size="31" font-weight="normal" text-anchor="start" fill="#111" >10</text>
<text x="1595.60" y="386.67" font-family='"Liberation Serif", "Times New Roman", serif' font-size="31" font-weight="normal" text-anchor="start" fill="#111" >20</text>
<text x="1595.60" y="297.15" font-family='"Liberation Serif", "Times New Roman", serif' font-size="31" font-weight="normal" text-anchor="start" fill="#111" >30</text>
<text x="1595.60" y="207.63" font-family='"Liberation Serif", "Times New Roman", serif' font-size="31" font-weight="normal" text-anchor="start" fill="#111" >40</text>
<text x="1595.60" y="118.12" font-family='"Liberation Serif", "Times New Roman", serif' font-size="31" font-weight="normal" text-anchor="start" fill="#111" >50</text>
<text x="1595.60" y="28.60" font-family='"Liberation Serif", "Times New Roman", serif' font-size="31" font-weight="normal" text-anchor="start" fill="#111" >60</text>
<text x="177.70" y="600.40" font-family='"Liberation Serif", "Times New Roman", serif' font-size="31" font-weight="normal" text-anchor="middle" fill="#111" >10</text>
<text x="894.60" y="599.90" font-family='"Liberation Serif", "Times New Roman", serif' font-size="31" font-weight="normal" text-anchor="middle" fill="#111" >10</text>
<text x="257.30" y="600.40" font-family='"Liberation Serif", "Times New Roman", serif' font-size="31" font-weight="normal" text-anchor="middle" fill="#111" >14</text>
<text x="974.30" y="599.90" font-family='"Liberation Serif", "Times New Roman", serif' font-size="31" font-weight="normal" text-anchor="middle" fill="#111" >14</text>
<text x="336.90" y="600.40" font-family='"Liberation Serif", "Times New Roman", serif' font-size="31" font-weight="normal" text-anchor="middle" fill="#111" >18</text>
<text x="1054.00" y="599.90" font-family='"Liberation Serif", "Times New Roman", serif' font-size="31" font-weight="normal" text-anchor="middle" fill="#111" >18</text>
<text x="416.50" y="600.40" font-family='"Liberation Serif", "Times New Roman", serif' font-size="31" font-weight="normal" text-anchor="middle" fill="#111" >22</text>
<text x="1133.70" y="599.90" font-family='"Liberation Serif", "Times New Roman", serif' font-size="31" font-weight="normal" text-anchor="middle" fill="#111" >22</text>
<text x="496.10" y="600.40" font-family='"Liberation Serif", "Times New Roman", serif' font-size="31" font-weight="normal" text-anchor="middle" fill="#111" >26</text>
<text x="1213.40" y="599.90" font-family='"Liberation Serif", "Times New Roman", serif' font-size="31" font-weight="normal" text-anchor="middle" fill="#111" >26</text>
<text x="575.70" y="600.40" font-family='"Liberation Serif", "Times New Roman", serif' font-size="31" font-weight="normal" text-anchor="middle" fill="#111" >30</text>
<text x="1293.10" y="599.90" font-family='"Liberation Serif", "Times New Roman", serif' font-size="31" font-weight="normal" text-anchor="middle" fill="#111" >30</text>
<text x="655.30" y="600.40" font-family='"Liberation Serif", "Times New Roman", serif' font-size="31" font-weight="normal" text-anchor="middle" fill="#111" >34</text>
<text x="1372.80" y="599.90" font-family='"Liberation Serif", "Times New Roman", serif' font-size="31" font-weight="normal" text-anchor="middle" fill="#111" >34</text>
<text x="734.90" y="600.40" font-family='"Liberation Serif", "Times New Roman", serif' font-size="31" font-weight="normal" text-anchor="middle" fill="#111" >38</text>
<text x="1452.50" y="599.90" font-family='"Liberation Serif", "Times New Roman", serif' font-size="31" font-weight="normal" text-anchor="middle" fill="#111" >38</text>
<text x="814.50" y="600.40" font-family='"Liberation Serif", "Times New Roman", serif' font-size="31" font-weight="normal" text-anchor="middle" fill="#111" >42</text>
<text x="1532.20" y="599.90" font-family='"Liberation Serif", "Times New Roman", serif' font-size="31" font-weight="normal" text-anchor="middle" fill="#111" >42</text>
</g>
<g id="titles">
<text x="354.30" y="670.80" font-family='"Liberation Serif", "Times New Roman", serif' font-size="37.2" font-weight="normal" text-anchor="start" fill="#111" >Days after anthesis</text>
<text x="1072.00" y="670.90" font-family='"Liberation Serif", "Times New Roman", serif' font-size="37.2" font-weight="normal" text-anchor="start" fill="#111" >Days after anthesis</text>
<text x="45.90" y="479.20" font-family='"Liberation Serif", "Times New Roman", serif' font-size="38.0" font-weight="normal" text-anchor="start" fill="#111" transform="rotate(-90 45.90 479.20)" >Sucrose content (mg g</text>
<text x="27.20" y="128.60" font-family='"Liberation Serif", "Times New Roman", serif' font-size="23" font-weight="normal" text-anchor="start" fill="#111" transform="rotate(-90 27.20 128.60)" >-1</text>
<text x="45.90" y="107.80" font-family='"Liberation Serif", "Times New Roman", serif' font-size="38.0" font-weight="normal" text-anchor="start" fill="#111" transform="rotate(-90 45.90 107.80)" >)</text>
<text x="1690.90" y="484.30" font-family='"Liberation Serif", "Times New Roman", serif' font-size="37.8" font-weight="normal" text-anchor="start" fill="#111" transform="rotate(-90 1690.90 484.30)" >Soluble sugar<tspan dx="-2.6" letter-spacing="0.2"> content</tspan><tspan dx="-1.2" letter-spacing="1.0"> (%)</tspan></text>
<text x="11.20" y="57.40" font-family='"Liberation Serif", "Times New Roman", serif' font-size="36" font-weight="bold" text-anchor="start" fill="#111" >A</text>
<text x="1679.40" y="61.00" font-family='"Liberation Serif", "Times New Roman", serif' font-size="36" font-weight="bold" text-anchor="start" fill="#111" >B</text>
</g>
<g id="legend">
<line x1="606.00" y1="71.40" x2="677.60" y2="71.40" stroke="#333" stroke-width="1.6" />
<circle cx="641.7" cy="71.4" r="6.5" fill="#0d0d0d"/>
<text x="703.40" y="82.20" font-family='"Liberation Serif", "Times New Roman", serif' font-size="31.4" font-weight="normal" text-anchor="start" fill="#111" >CK</text>
<line x1="606.00" y1="112.00" x2="677.60" y2="112.00" stroke="#333" stroke-width="1.6" />
<circle cx="641.7" cy="112.0" r="5.9" fill="#fff" stroke="#111" stroke-width="1.5"/>
<text x="703.40" y="122.80" font-family='"Liberation Serif", "Times New Roman", serif' font-size="31.4" font-weight="normal" text-anchor="start" fill="#111" >DS</text>
<line x1="606.00" y1="152.90" x2="677.60" y2="152.90" stroke="#333" stroke-width="1.6" />
<polygon points="635.1,149.5 648.3000000000001,149.5 641.7,161.3" fill="#0d0d0d"/>
<text x="703.40" y="163.70" font-family='"Liberation Serif", "Times New Roman", serif' font-size="31.4" font-weight="normal" text-anchor="start" fill="#111" >HT</text>
<line x1="606.00" y1="193.80" x2="677.60" y2="193.80" stroke="#333" stroke-width="1.6" />
<polygon points="635.9000000000001,197.4 647.5,197.4 641.7,187.4" fill="#fff" stroke="#111" stroke-width="1.5"/>
<text x="703.40" y="204.60" font-family='"Liberation Serif", "Times New Roman", serif' font-size="31.4" font-weight="normal" text-anchor="start" fill="#111" >HT+DS</text>
</g>
</svg>
</body>
</html>
